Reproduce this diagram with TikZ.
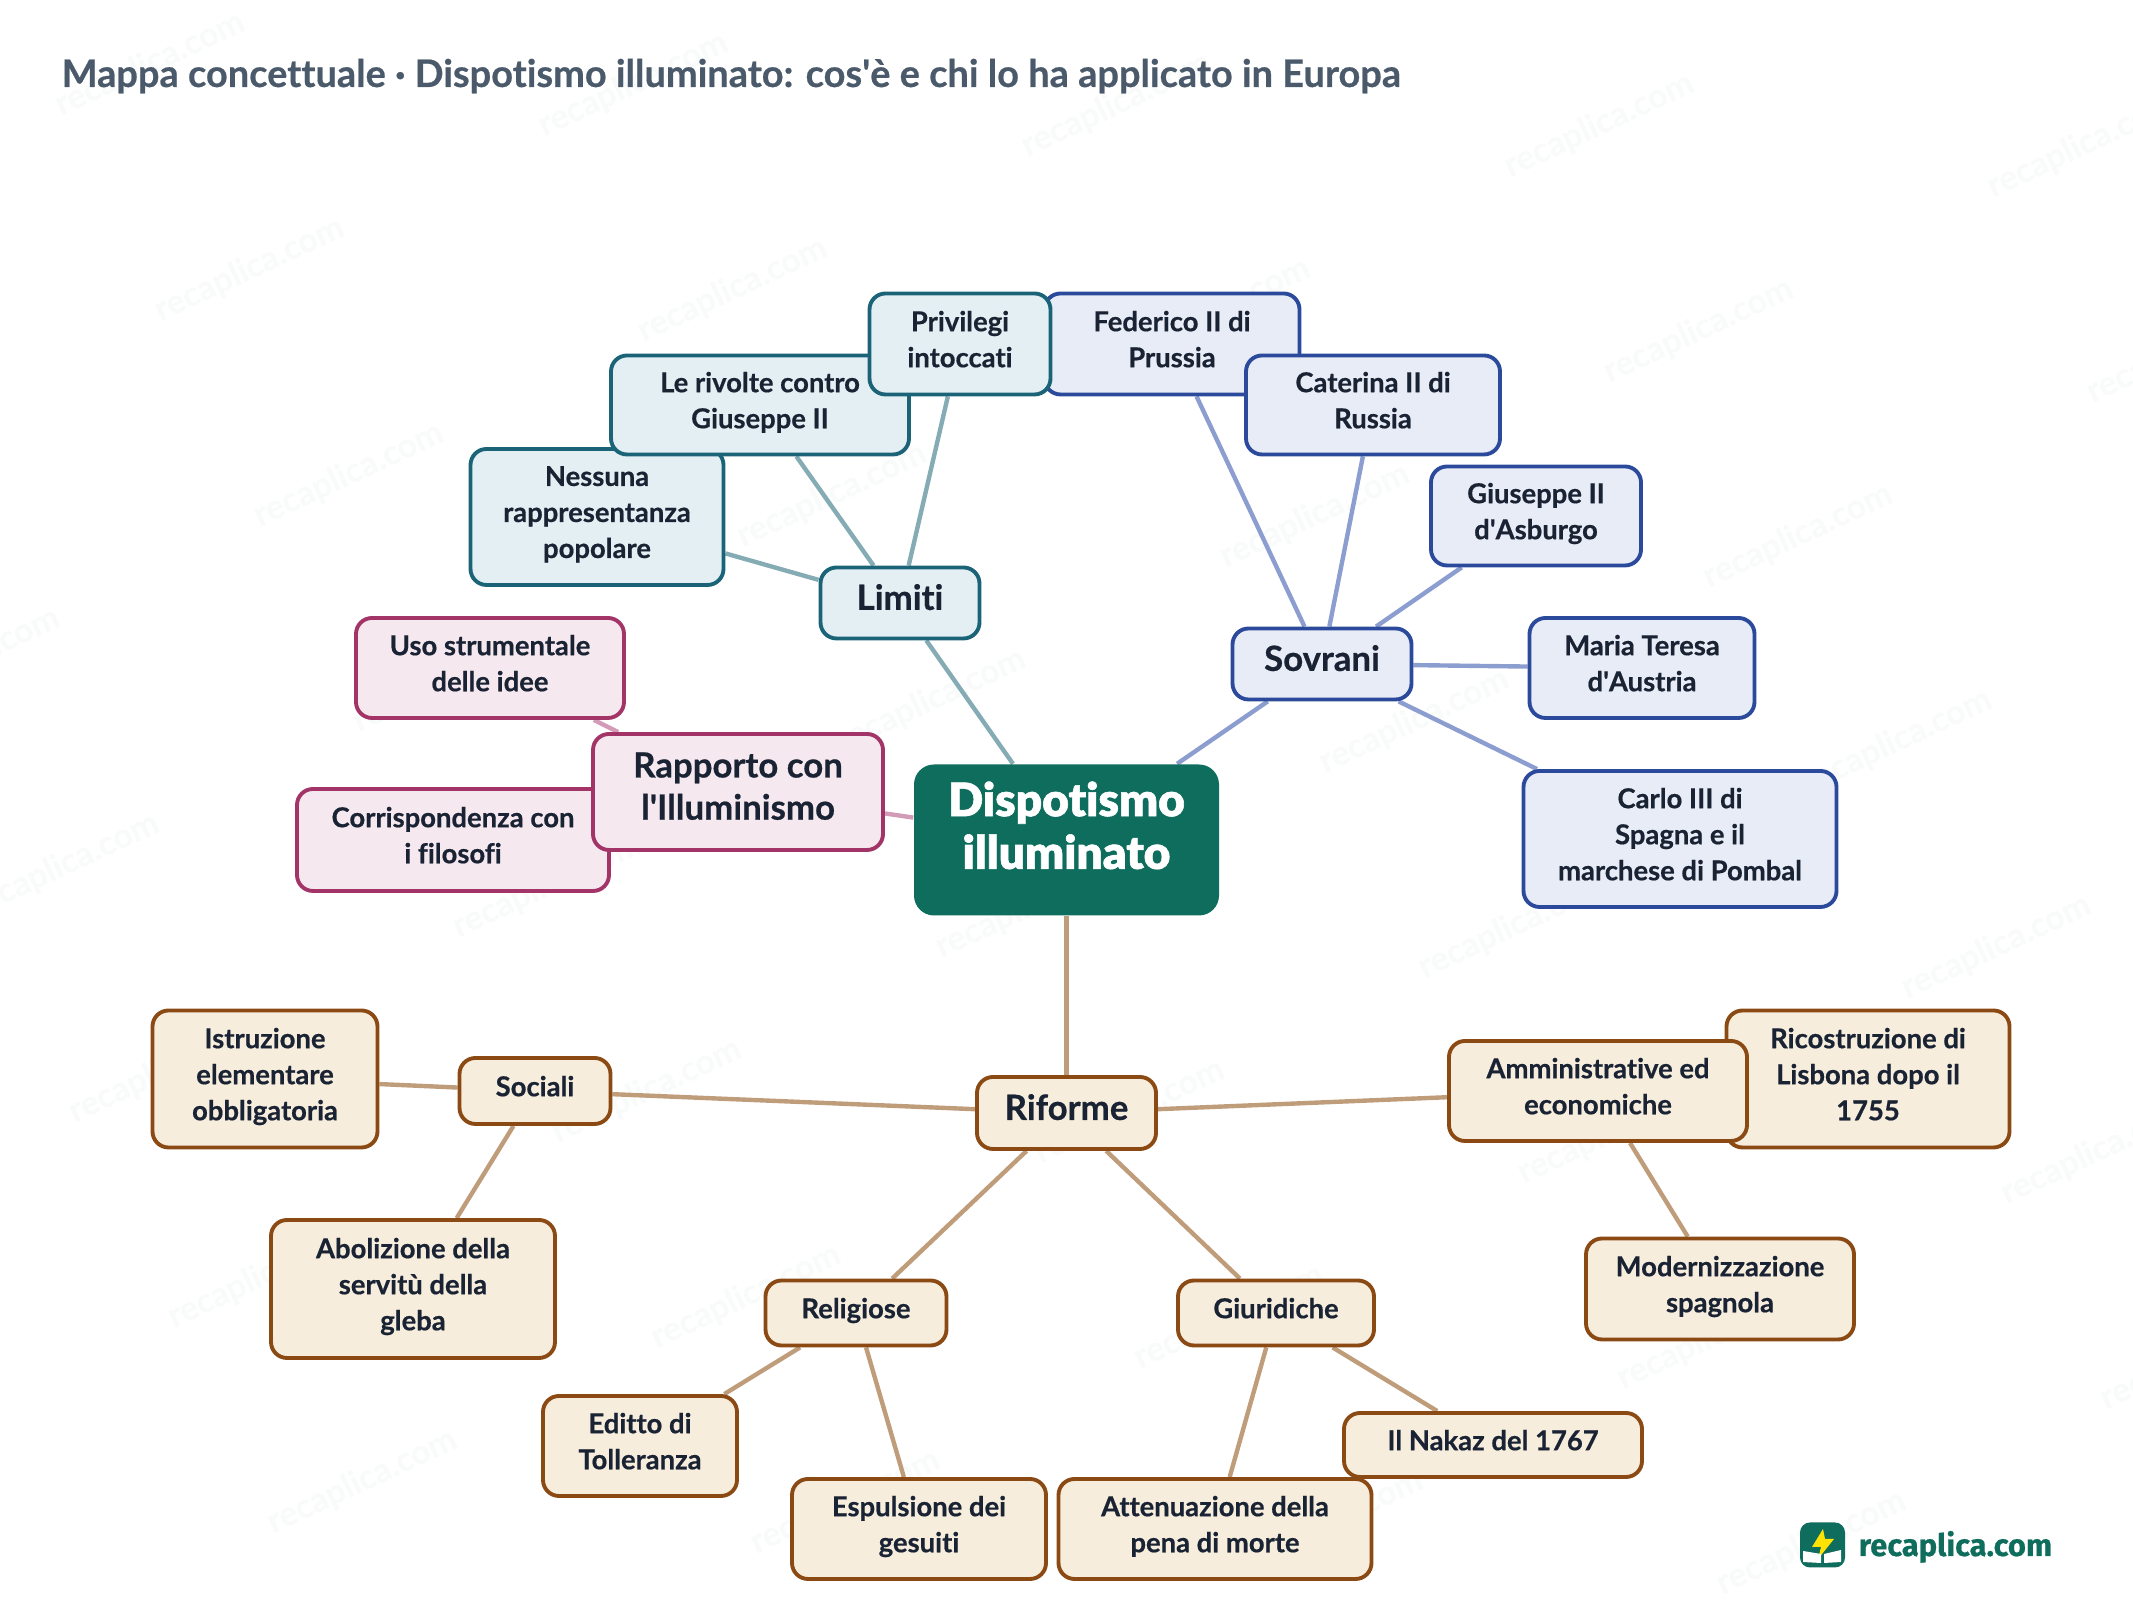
\documentclass[tikz,border=0pt]{standalone}
\usepackage{fontspec}
\usepackage{tikz}
\usetikzlibrary{backgrounds}
\setmainfont{Lato}[Ligatures=NoCommon, BoldFeatures={FakeBold=0.55}]
\newfontfamily\blackfont{Lato Black}[Ligatures=NoCommon, FakeBold=1.2]
\newfontfamily\logofont{Fira Sans}[BoldFeatures={FakeBold=0.5}]

\definecolor{inktext}{HTML}{1A2333}
\definecolor{titletext}{HTML}{4B5A6B}
\definecolor{maingreen}{HTML}{0E6D5C}
\definecolor{limitifill}{HTML}{E4EFF4}
\definecolor{limitidraw}{HTML}{1B6478}
\definecolor{limitiline}{HTML}{85ACB5}
\definecolor{sovranifill}{HTML}{E8ECF6}
\definecolor{sovranidraw}{HTML}{2B4A9B}
\definecolor{sovraniline}{HTML}{8C9DCF}
\definecolor{rapportofill}{HTML}{F6E8EF}
\definecolor{rapportodraw}{HTML}{A23468}
\definecolor{rapportoline}{HTML}{D29CB8}
\definecolor{riformefill}{HTML}{F6EDDD}
\definecolor{riformedraw}{HTML}{8B4A14}
\definecolor{riformeline}{HTML}{BF9D7B}

\begin{document}
\begin{tikzpicture}[
    sized/.style 2 args={minimum width=#1cm, minimum height=#2cm},
    lift/.style={execute at end node={\rule[-#1]{0pt}{0.1pt}}},
    box/.style={rounded corners=1.6mm, line width=1.1pt, align=center, inner sep=0pt, text=inktext,
        font=\fontsize{7.8}{10.25}\selectfont\bfseries, lift=2.8pt},
    bigbox/.style={box, font=\fontsize{9.9}{12}\selectfont\bfseries, lift=3.4pt},
    central/.style={rounded corners=2mm, fill=maingreen, align=center, inner sep=0pt, text=white,
        font=\fontsize{13.1}{15}\selectfont\blackfont, lift=8.4pt},
    limitibox/.style={box, draw=limitidraw, fill=limitifill},
    sovranibox/.style={box, draw=sovranidraw, fill=sovranifill},
    rapportobox/.style={box, draw=rapportodraw, fill=rapportofill},
    riformebox/.style={box, draw=riformedraw, fill=riformefill},
    link/.style={line width=1.25pt},
    watermark/.style={rotate=25, text=maingreen!3, font=\fontsize{9.6}{12}\selectfont\bfseries},
]
    \useasboundingbox (0.00, 0.00) rectangle (21.33, 16.00);

    \node[anchor=base west, inner sep=0pt, text=titletext, font=\fontsize{10.8}{13}\selectfont\bfseries] (title) at (0.61, 15.13)
        {Mappa concettuale · Dispotismo illuminato: cos\textquotesingle è e chi lo ha applicato in Europa};

    \node[central, sized={3.05}{1.51}] (root) at (10.665, 7.60) {Dispotismo\\illuminato};

    % limiti
    \node[limitibox, bigbox, sized={1.59}{0.71}] (limiti) at (9.00, 9.97) {Limiti};
    \node[limitibox, sized={2.53}{1.36}] (nessuna) at (5.97, 10.83) {Nessuna\\rappresentanza\\popolare};
    \node[limitibox, sized={2.98}{0.99}] (rivolte) at (7.60, 11.95) {Le rivolte contro\\Giuseppe II};

    % sovrani
    \node[sovranibox, bigbox, sized={1.79}{0.71}] (sovrani) at (13.22, 9.36) {Sovrani};
    \node[sovranibox, sized={2.55}{1.01}] (federico) at (11.72, 12.56) {Federico II di\\Prussia};
    \node[limitibox, sized={1.81}{1.01}] (privilegi) at (9.60, 12.56) {Privilegi\\intoccati};
    \node[sovranibox, sized={2.54}{0.99}] (caterina) at (13.73, 11.95) {Caterina II di\\Russia};
    \node[sovranibox, sized={2.10}{0.99}] (giuseppe) at (15.36, 10.84) {Giuseppe II\\d\textquotesingle Asburgo};
    \node[sovranibox, sized={2.25}{1.00}] (maria) at (16.42, 9.32) {Maria Teresa\\d\textquotesingle Austria};
    \node[sovranibox, sized={3.13}{1.36}] (carlo) at (16.80, 7.61) {Carlo III di\\Spagna e il\\marchese di Pombal};

    % rapporto con l'illuminismo
    \node[rapportobox, sized={2.68}{1.00}] (uso) at (4.90, 9.32) {Uso strumentale\\delle idee};
    \node[rapportobox, sized={3.12}{1.02}] (corrispondenza) at (4.53, 7.60) {Corrispondenza con\\i filosofi};
    \node[rapportobox, bigbox, sized={2.90}{1.16}] (rapporto) at (7.38, 8.08) {Rapporto con\\l\textquotesingle Illuminismo};

    % riforme
    \node[riformebox, bigbox, sized={1.79}{0.72}] (riforme) at (10.665, 4.87) {Riforme};
    \node[riformebox, sized={1.51}{0.66}] (sociali) at (5.35, 5.09) {Sociali};
    \node[riformebox, sized={2.25}{1.37}] (istruzione) at (2.65, 5.21) {Istruzione\\elementare\\obbligatoria};
    \node[riformebox, sized={2.84}{1.38}] (abolizione) at (4.13, 3.11) {Abolizione della\\servitù della\\gleba};
    \node[riformebox, sized={1.81}{0.65}] (religiose) at (8.56, 2.87) {Religiose};
    \node[riformebox, sized={1.94}{1.00}] (editto) at (6.40, 1.54) {Editto di\\Tolleranza};
    \node[riformebox, sized={2.54}{1.00}] (espulsione) at (9.19, 0.71) {Espulsione dei\\gesuiti};
    \node[riformebox, sized={1.96}{0.65}] (giuridiche) at (12.76, 2.87) {Giuridiche};
    \node[riformebox, sized={3.13}{1.00}] (attenuazione) at (12.15, 0.71) {Attenuazione della\\pena di morte};
    \node[riformebox, sized={2.98}{0.64}] (nakaz) at (14.93, 1.55) {Il Nakaz del 1767};
    \node[riformebox, sized={2.83}{1.37}] (ricostruzione) at (18.68, 5.21) {Ricostruzione di\\Lisbona dopo il\\1755};
    \node[riformebox, sized={2.98}{1.00}] (amministrative) at (15.98, 5.09) {Amministrative ed\\economiche};
    \node[riformebox, sized={2.68}{1.01}] (modernizzazione) at (17.20, 3.11) {Modernizzazione\\spagnola};

    % logo
    \node[fill=maingreen, rounded corners=1mm, minimum size=4.5mm, inner sep=0pt] (logo) at (18.225, 0.55) {};
    \fill[yellow!85!orange] (18.23, 0.71) -- (18.12, 0.53) -- (18.21, 0.53) -- (18.18, 0.41) -- (18.34, 0.61) -- (18.25, 0.61) -- cycle;
    \fill[white] (18.03, 0.49) -- (18.21, 0.46) -- (18.21, 0.37) -- (18.03, 0.38) -- cycle;
    \fill[white] (18.24, 0.46) -- (18.41, 0.50) -- (18.41, 0.38) -- (18.24, 0.37) -- cycle;
    \node[anchor=base west, inner sep=0pt, text=maingreen, font=\fontsize{8.8}{10}\selectfont\logofont\bfseries] (brand) at (18.58, 0.44) {recaplica.com};

    \begin{scope}[on background layer]
        \foreach \i in {-2,...,5}
            \foreach \j in {0,...,8} {
                \pgfmathsetmacro{\wx}{1.50 + 4.83*\i + 0.993*\j}
                \pgfmathsetmacro{\wy}{15.36 - 0.204*\i - 2.054*\j}
                \pgfmathparse{(\wx > -0.8 && \wx < 22.1 && \wy > -0.6 && \wy < 16.6) ? 1 : 0}
                \ifnum\pgfmathresult=1
                    \node[watermark] (mark-\i-\j) at (\wx, \wy) {recaplica.com};
                \fi
            }

        \foreach \a/\b in {root/limiti, limiti/nessuna, limiti/rivolte, limiti/privilegi}
            \draw[link, limitiline] (\a) -- (\b);
        \foreach \a/\b in {root/sovrani, sovrani/federico, sovrani/caterina, sovrani/giuseppe, sovrani/maria, sovrani/carlo}
            \draw[link, sovraniline] (\a) -- (\b);
        \foreach \a/\b in {root/rapporto, rapporto/uso, rapporto/corrispondenza}
            \draw[link, rapportoline] (\a) -- (\b);
        \foreach \a/\b in {root/riforme, riforme/sociali, sociali/istruzione, sociali/abolizione,
                riforme/religiose, religiose/editto, religiose/espulsione,
                riforme/giuridiche, giuridiche/attenuazione, giuridiche/nakaz,
                riforme/amministrative, amministrative/ricostruzione, amministrative/modernizzazione}
            \draw[link, riformeline] (\a) -- (\b);
    \end{scope}
\end{tikzpicture}
\end{document}
